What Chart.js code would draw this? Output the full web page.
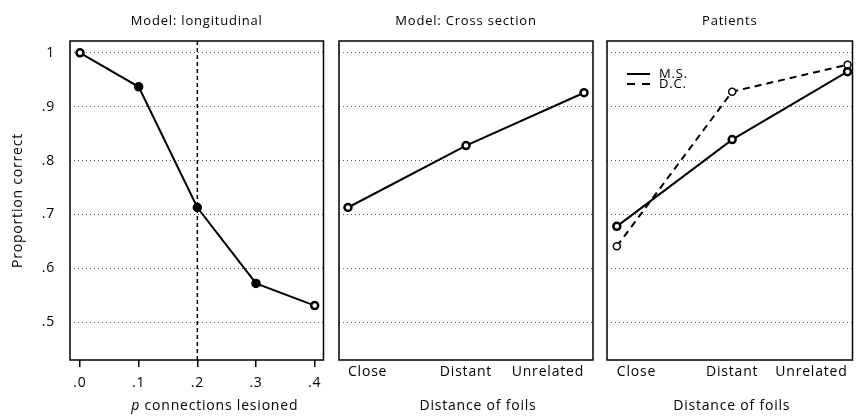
<!DOCTYPE html>
<html>
<head>
<meta charset="utf-8">
<script src="https://cdn.jsdelivr.net/npm/chart.js@4"></script>
<style>
  html, body { margin:0; padding:0; background:#fff; }
  #wrap { position:relative; width:859px; height:418px; overflow:hidden; }
  canvas { position:absolute; top:0; }
</style>
</head>
<body>
<div id="wrap">
  <canvas id="longi" width="330" height="418" style="left:0"></canvas>
  <canvas id="cross" width="270" height="418" style="left:330px"></canvas>
  <canvas id="patients" width="259" height="418" style="left:600px"></canvas>
</div>
<script>
// ── data ────────────────────────────────────────────────────────────────
const lesionLevels  = [0, 0.1, 0.2, 0.3, 0.4];
const longitudinal  = [1.0, 0.937, 0.713, 0.572, 0.531];
const lesionFilled  = [false, true, true, true, false];
const lesionMarker  = [0.2];

const foilCategories = ["Close", "Distant", "Unrelated"];
const crossSection   = [0.713, 0.828, 0.926];
const patientMS      = [0.678, 0.839, 0.965];
const patientDC      = [0.641, 0.928, 0.978];

const yTicks = [0.5, 0.6, 0.7, 0.8, 0.9, 1.0];
const Y_MIN = 0.43, Y_MAX = 1.022;

const FONT = "'Open Sans', 'Noto Sans', sans-serif";


// ── helpers ─────────────────────────────────────────────────────────────
const fmtDec  = v => v >= 1 ? "1" : "." + Math.round(v * 10);
const fmtDec0 = v => "." + Math.round(v * 10);

function yScale(showLabels, width) {
  return {
    type: "linear", min: Y_MIN, max: Y_MAX,
    afterBuildTicks: s => { s.ticks = yTicks.map(v => ({value: v})); },
    afterFit: s => { s.width = width; },
    grid: { color: "#555", lineWidth: 1, drawTicks: false },
    border: { display: false, dash: [1, 3] },
    ticks: { display: showLabels, padding: 15, color: "#000",
             font: { family: FONT, size: 14 }, callback: fmtDec },
    title: { display: showLabels, text: "Proportion correct", color: "#000",
             font: { family: FONT, size: 14 }, padding: { top: 10, bottom: 0 } },
  };
}

function foilScale(min, max) {
  return {
    type: "linear", min, max,
    afterBuildTicks: s => { s.ticks = foilCategories.map((_, i) => ({value: i})); },
    afterFit: s => { s.height = 58; },
    grid: { display: false, drawTicks: false },
    border: { display: false },
    ticks: { align: "inner", padding: 4, color: "#000",
             font: { family: FONT, size: 14 }, callback: v => foilCategories[v] },
  };
}

function titleOpts(text) {
  return { display: true, text, fullSize: false, color: "#000",
           font: { family: FONT, size: 13, weight: "normal" },
           padding: { top: 13, bottom: 12.4 } };
}

const points = (xs, ys) => xs.map((x, i) => ({x, y: ys[i]}));

// the printed figure uses a loosely tracked typeface
const spacing = {
  id: "spacing",
  beforeLayout(chart) { chart.ctx.letterSpacing = "0.8px"; },
  beforeDraw(chart)   { chart.ctx.letterSpacing = "0.8px"; },
};

const framePlugin = {
  id: "frame",
  afterDatasetsDraw(chart) {
    const {ctx, chartArea: a} = chart;
    ctx.save();
    ctx.strokeStyle = "#000"; ctx.lineWidth = 1.5;
    ctx.strokeRect(a.left, a.top, a.right - a.left, a.bottom - a.top);
    ctx.restore();
  }
};

// x-axis caption (lets "p" be italic)
const captionPlugin = {
  id: "caption",
  afterDraw(chart, args, opts) {
    if (!opts.parts) return;
    const {ctx, chartArea: a} = chart;
    ctx.save();
    ctx.textBaseline = "middle"; ctx.fillStyle = "#000";
    const fonts  = opts.parts.map(p => `${p.italic ? "italic " : ""}14px ${FONT}`);
    const widths = opts.parts.map((p, i) => { ctx.font = fonts[i]; return ctx.measureText(p.text).width; });
    let x = (a.left + a.right) / 2 + (opts.dx || 0) - widths.reduce((s, w) => s + w, 0) / 2;
    opts.parts.forEach((p, i) => { ctx.font = fonts[i]; ctx.fillText(p.text, x, chart.height - 12); x += widths[i]; });
    ctx.restore();
  }
};

// small inset legend for the patients panel
const insetLegend = {
  id: "insetLegend",
  afterDraw(chart, args, opts) {
    if (!opts.show) return;
    const {ctx, chartArea: a} = chart;
    ctx.save();
    chart.data.datasets.forEach((ds, i) => {
      const y = a.top + 33 + i * 10;
      ctx.strokeStyle = "#000"; ctx.lineWidth = 2;
      ctx.setLineDash(ds.legendDash || []);
      ctx.beginPath(); ctx.moveTo(a.left + 20, y); ctx.lineTo(a.left + 43, y); ctx.stroke();
      ctx.setLineDash([]);
      ctx.fillStyle = "#000"; ctx.font = `13px ${FONT}`; ctx.textBaseline = "middle";
      ctx.fillText(ds.label, a.left + 52, y);
    });
    ctx.restore();
  }
};

Chart.register(spacing, framePlugin, captionPlugin, insetLegend);
Chart.defaults.font.family = FONT;

const baseOpts = {
  responsive: false, animation: false, devicePixelRatio: 1,
  events: [],
};


// ── panel 1: longitudinal ───────────────────────────────────────────────
new Chart(document.getElementById("longi"), {
  type: "line",
  data: {
    datasets: [
      { label: "lesion level", data: lesionMarker.flatMap(x => [{x, y: Y_MIN}, {x, y: Y_MAX}]),
        borderColor: "#000", borderWidth: 1.5, borderDash: [4, 3], pointRadius: 0 },
      { label: "Longitudinal", data: points(lesionLevels, longitudinal),
        borderColor: "#000", borderWidth: 2, pointRadius: 3.5, pointBorderWidth: 2.5,
        pointBorderColor: "#000",
        pointBackgroundColor: lesionFilled.map(f => f ? "#000" : "#fff") },
    ],
  },
  options: {
    ...baseOpts,
    layout: { padding: { right: 5 } },
    scales: {
      x: {
        type: "linear", min: -0.017, max: 0.415,
        afterBuildTicks: s => { s.ticks = lesionLevels.map(v => ({value: v})); },
        afterFit: s => { s.height = 58; },
        grid: { drawOnChartArea: false, drawTicks: true, tickLength: 7, color: "#000", lineWidth: 1.5 },
        border: { display: false },
        ticks: { padding: 8, color: "#000", font: { family: FONT, size: 14 }, callback: fmtDec0 },
      },
      y: yScale(true, 70),
    },
    plugins: {
      legend: { display: false }, tooltip: { enabled: false },
      title: titleOpts("Model: longitudinal"),
      caption: { parts: [{ text: "p", italic: true }, { text: " connections lesioned" }], dx: 18 },
    },
  },
});


// ── panel 2: cross section ──────────────────────────────────────────────
new Chart(document.getElementById("cross"), {
  type: "line",
  data: {
    datasets: [
      { label: "Cross section", data: points(foilCategories.map((_, i) => i), crossSection),
        borderColor: "#000", borderWidth: 2, pointRadius: 3.5, pointBorderWidth: 2.5,
        pointBorderColor: "#000", pointBackgroundColor: "#fff" },
    ],
  },
  options: {
    ...baseOpts,
    layout: { padding: { right: 7 } },
    scales: { x: foilScale(-0.076, 2.076), y: yScale(false, 9) },
    plugins: {
      legend: { display: false }, tooltip: { enabled: false },
      title: titleOpts("Model: Cross section"),
      caption: { parts: [{ text: "Distance of foils" }], dx: 12 },
    },
  },
});


// ── panel 3: patients ───────────────────────────────────────────────────
new Chart(document.getElementById("patients"), {
  type: "line",
  data: {
    datasets: [
      { label: "M.S.", data: points(foilCategories.map((_, i) => i), patientMS),
        borderColor: "#000", borderWidth: 2, pointRadius: 3.5, pointBorderWidth: 2.5,
        pointBorderColor: "#000", pointBackgroundColor: "#fff", legendDash: [] },
      { label: "D.C.", data: points(foilCategories.map((_, i) => i), patientDC),
        borderColor: "#000", borderWidth: 2, borderDash: [7, 5], pointRadius: 3.5, pointBorderWidth: 1.5,
        pointBorderColor: "#000", pointBackgroundColor: "#fff", legendDash: [8, 7] },
    ],
  },
  options: {
    ...baseOpts,
    layout: { padding: { right: 2 } },
    scales: { x: foilScale(-0.085, 2.043), y: yScale(false, 7) },
    plugins: {
      legend: { display: false }, tooltip: { enabled: false },
      title: titleOpts("Patients"),
      caption: { parts: [{ text: "Distance of foils" }], dx: 2 },
      insetLegend: { show: true },
    },
  },
});
</script>
</body>
</html>
